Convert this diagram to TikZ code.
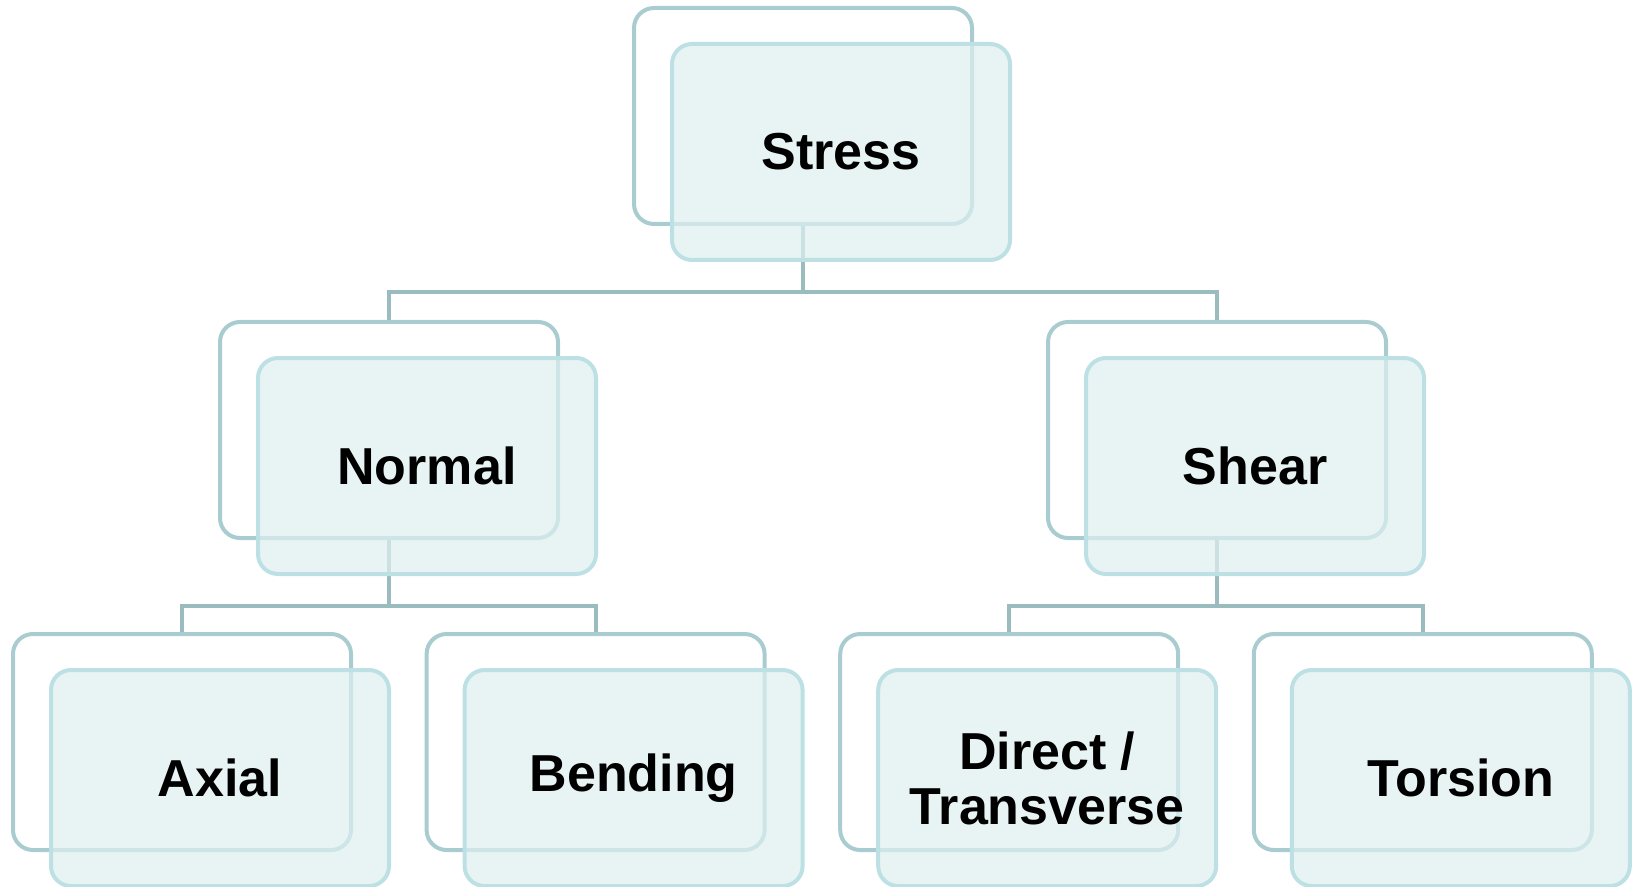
\documentclass[tikz,border=0pt]{standalone}
\usepackage{fontspec}
\setmainfont{Liberation Sans}
\usepackage{xcolor}
\usetikzlibrary{positioning}

\definecolor{backline}{RGB}{168,204,208}
\definecolor{frontline}{RGB}{189,224,228}
\definecolor{frontfill}{RGB}{222,240,240}
\definecolor{connline}{RGB}{155,188,191}

\begin{document}
\begin{tikzpicture}[x=0.5pt, y=-0.5pt, node distance=47pt and 35.8pt,
    back/.style={rectangle, rounded corners=10pt, draw=backline, line width=2pt, minimum width=169pt, minimum height=108pt},
    front/.style={rectangle, rounded corners=10pt, draw=frontline, fill=frontfill, fill opacity=0.7, text opacity=1, line width=2pt, minimum width=169pt, minimum height=108pt, align=center, font=\bfseries\fontsize{26}{27.5}\selectfont, xshift=19pt, yshift=-18pt},
    conn/.style={draw=connline, line width=2pt}
]
    \useasboundingbox (0,0) rectangle (1636,887);

    \node [back] (stressB) at (803,116) {};
    \node [back, below left=47pt and 36pt of stressB] (normalB) {};
    \node [back, below right=47pt and 36pt of stressB] (shearB) {};
    \node [back] (axialB) at (182,742) {};
    \node [back, right=of axialB] (bendingB) {};
    \node [back, right=of bendingB] (directB) {};
    \node [back, right=of directB] (torsionB) {};

    \draw [conn] (stressB.south) -- ++(0,-33pt) -| (normalB.north);
    \draw [conn] (stressB.south) -- ++(0,-33pt) -| (shearB.north);
    \draw [conn] (normalB.south) -- ++(0,-33pt) -| (axialB.north);
    \draw [conn] (normalB.south) -- ++(0,-33pt) -| (bendingB.north);
    \draw [conn] (shearB.south) -- ++(0,-33pt) -| (directB.north);
    \draw [conn] (shearB.south) -- ++(0,-33pt) -| (torsionB.north);

    \node [front] (stress) at (stressB) {Stress};
    \node [front] (normal) at (normalB) {Normal};
    \node [front] (shear) at (shearB) {Shear};
    \node [front] (axial) at (axialB) {Axial};
    \node [front] (bending) at (bendingB) {Bending};
    \node [front] (direct) at (directB) {Direct /\\Transverse};
    \node [front] (torsion) at (torsionB) {Torsion};
\end{tikzpicture}
\end{document}
